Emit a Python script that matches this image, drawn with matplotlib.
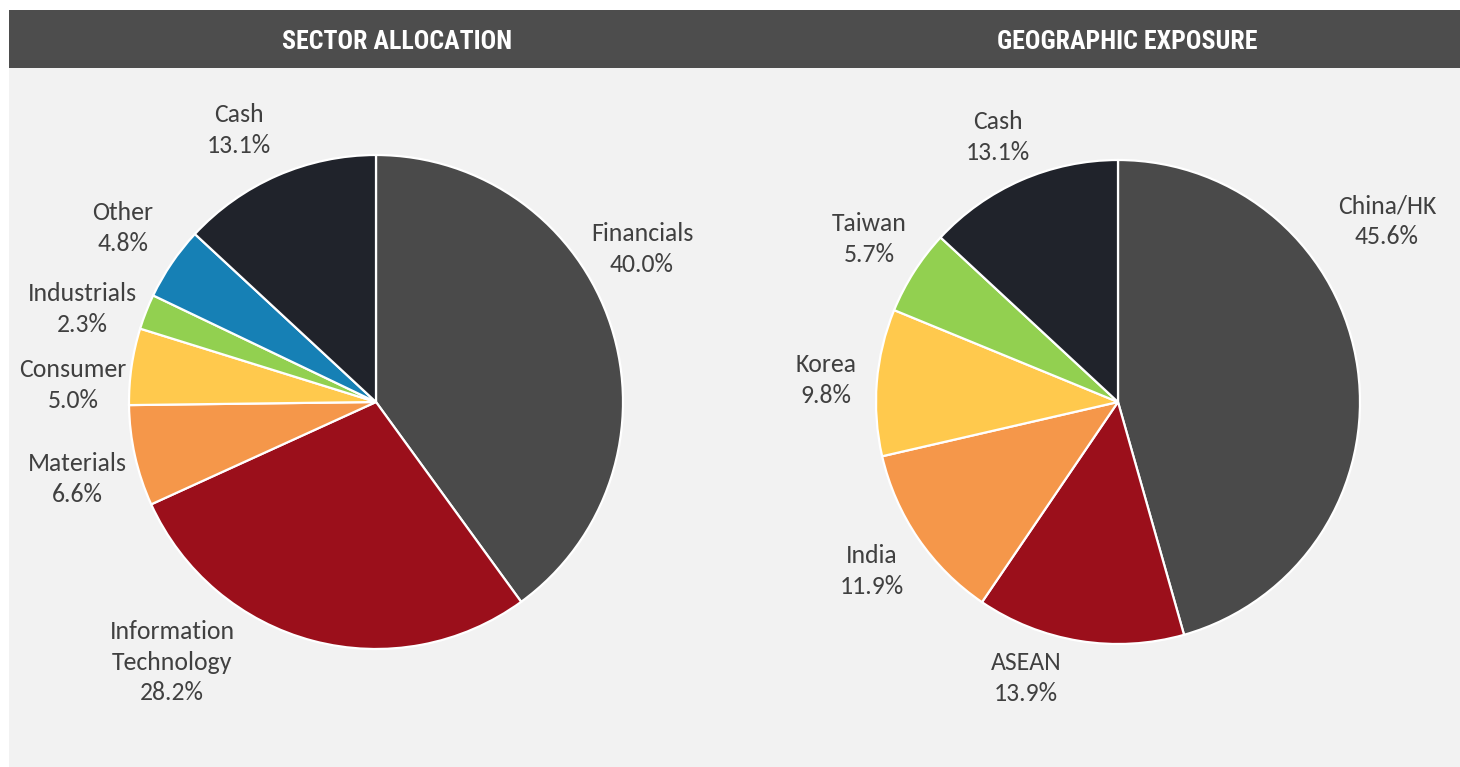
import matplotlib
matplotlib.use("Agg")
import matplotlib.pyplot as plt
from matplotlib.patches import Rectangle
from matplotlib import font_manager as fm

# ---- data ----
sector_labels = ["Financials", "Information\nTechnology", "Materials", "Consumer",
                 "Industrials", "Other", "Cash"]
sector_values = [40.0, 28.2, 6.6, 5.0, 2.3, 4.8, 13.1]
geo_labels = ["China/HK", "ASEAN", "India", "Korea", "Taiwan", "Cash"]
geo_values = [45.6, 13.9, 11.9, 9.8, 5.7, 13.1]

# ---- styles / layout ----
W, H = 1460, 767
BG = "#f2f2f2"
HEADER = "#4d4d4d"
TEXT = "#404040"
sector_colors = ["#4a4a4a", "#9b0f1b", "#f5974a", "#ffc94d", "#92d050", "#1680b5", "#20232b"]
geo_colors = ["#4a4a4a", "#9b0f1b", "#f5974a", "#ffc94d", "#92d050", "#20232b"]

sector_label_off = [(266, -153), (-204, 260), (-299, 77), (-303, -17),
                    (-294, -93), (-253, -174), (-137, -272)]
geo_label_off = [(269, -181), (-92, 276), (-246, 169), (-292, -22),
                 (-249, -163), (-120, -265)]

available = {f.name for f in fm.fontManager.ttflist}
if "Carlito" in available:
    LABEL_FONT, LABEL_SIZE = ["Carlito", "DejaVu Sans"], 18.5
else:
    LABEL_FONT, LABEL_SIZE = ["Lato", "DejaVu Sans"], 17.5
TITLE_FONT = ["Roboto Condensed", "Liberation Sans", "DejaVu Sans"]

fig = plt.figure(figsize=(W / 100, H / 100), dpi=100)
fig.patch.set_facecolor("white")


def px_rect(x0, y0, x1, y1, color):
    fig.patches.append(Rectangle((x0 / W, 1 - y1 / H), (x1 - x0) / W, (y1 - y0) / H,
                                 transform=fig.transFigure, facecolor=color,
                                 edgecolor="none", zorder=-5))


px_rect(9, 10, W, H, BG)
px_rect(9, 10, W, 68, HEADER)

fig.text(397 / W, 1 - 42 / H, "SECTOR ALLOCATION", color="white", fontsize=18.6,
         fontweight="bold", family=TITLE_FONT, ha="center", va="center")
fig.text(1127 / W, 1 - 42 / H, "GEOGRAPHIC EXPOSURE", color="white", fontsize=18.6,
         fontweight="bold", family=TITLE_FONT, ha="center", va="center")


def draw_pie(cx, cy, r, panel, labels, values, colors, offsets):
    px0, py0, px1, py1 = panel
    ax = fig.add_axes([px0 / W, 1 - py1 / H, (px1 - px0) / W, (py1 - py0) / H])
    ax.pie(values, colors=colors, startangle=90, counterclock=False,
           wedgeprops=dict(edgecolor="white", linewidth=1.6), normalize=True)
    ax.set_xlim((px0 - cx) / r, (px1 - cx) / r)
    ax.set_ylim(-(py1 - cy) / r, (cy - py0) / r)
    ax.set_aspect("equal", adjustable="box")
    ax.axis("off")
    for lab, val, (dx, dy) in zip(labels, values, offsets):
        ax.text(dx / r, -dy / r, f"{lab}\n{val:.1f}%", ha="center", va="center",
                color=TEXT, fontsize=LABEL_SIZE, family=LABEL_FONT, linespacing=1.4)
    return ax


draw_pie(376, 402, 247, (9, 68, 740, 767), sector_labels, sector_values,
         sector_colors, sector_label_off)
draw_pie(1118, 402, 242, (740, 68, 1460, 767), geo_labels, geo_values,
         geo_colors, geo_label_off)

fig.savefig("out.png", dpi=100, facecolor="white")
